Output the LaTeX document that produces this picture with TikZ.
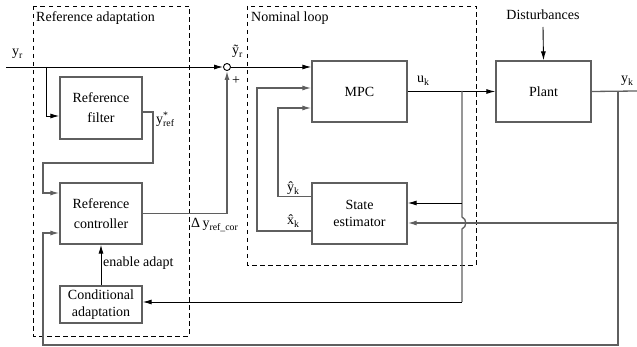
\documentclass[tikz,border=0pt]{standalone}
\usepackage{fontspec}
\setmainfont{Liberation Serif}
\usetikzlibrary{arrows.meta,calc}
\definecolor{ln}{RGB}{95,95,95}
\begin{document}
\begin{tikzpicture}[x=1pt,y=-1pt,
  font=\fontsize{14}{17}\selectfont,
  blk/.style={draw=ln,line width=1.3pt,align=center,inner sep=0pt},
  gl/.style={draw=ln,line width=1.3pt},
  bl/.style={draw=black,line width=0.9pt},
  arr/.style={-{Latex[length=9pt,width=5pt]}},
  dbox/.style={draw=black,line width=0.8pt,dash pattern=on 4.5pt off 3.5pt},
  lbl/.style={anchor=base west,inner sep=0pt}]
\useasboundingbox (0,0) rectangle (637,347);

% dashed groups
\draw[dbox] (33,6) rectangle (189,336);
\draw[dbox] (247,6) rectangle (476,265);
\node[lbl] (ra) at (36,21.5) {Reference adaptation};
\node[lbl] (nl) at (251,21.5) {Nominal loop};

% blocks
\node[blk,minimum width=82pt,minimum height=62pt,font=\fontsize{14}{20}\selectfont] (filt) at (101,108) {Reference\\filter};
\node[blk,minimum width=82pt,minimum height=61pt,font=\fontsize{14}{20}\selectfont] (ctrl) at (101,213.5) {Reference\\controller};
\node[blk,minimum width=82pt,minimum height=37pt] (cond) at (101,304.5) {Conditional\\adaptation};
\node[blk,minimum width=95pt,minimum height=61pt] (mpc) at (359.5,91.5) {MPC};
\node[blk,minimum width=95pt,minimum height=61pt] (est) at (359.5,213.5) {State\\estimator};
\node[blk,minimum width=95pt,minimum height=61pt] (plant) at (543.5,91.5) {Plant};
\node[draw=black,circle,line width=0.9pt,minimum size=7pt,inner sep=0pt,fill=white] (sum) at (227,67) {};

% coordinates
\coordinate (yrin) at (6,67);
\coordinate (br1) at (46,67);
\coordinate (fo1) at (153,163);
\coordinate (fo2) at (43,193);
\coordinate (uk) at (462,91);
\coordinate (ukest) at (462,203);
\coordinate (hopa) at (462,217);
\coordinate (hopb) at (462,229);
\coordinate (ukcond) at (462,302);
\coordinate (yk) at (618,91);
\coordinate (ykest) at (618,223);
\coordinate (yend) at (637,91);
\coordinate (bl) at (43,345);
\coordinate (xh) at (257,88);
\coordinate (yh) at (278,108);
\coordinate (dist) at (543,27);

% reference path
\draw[bl,arr] (yrin) -- (sum.west);
\draw[bl,arr] (sum.east) -- (mpc.west |- sum);
\draw[bl,arr] (br1) |- ($(filt.west)+(0,8)$);
\draw[gl,arr] ($(filt.east)+(0,4)$) -| (fo1) -| (fo2) -- (ctrl.west |- fo2);
\draw[gl,arr] (ctrl.east) -| (sum.south);
\draw[bl,arr] (cond.north) -- (ctrl.south);

% nominal loop
\draw[gl,arr] ($(est.west)+(0,17.5)$) -| (xh) -- (mpc.west |- xh);
\draw[gl,arr] ($(est.west)+(0,-17)$) -| (yh) -- (mpc.west |- yh);
\draw[bl,arr] (mpc.east) -- (plant.west);
\draw[bl,arr] (dist) -- (plant.north);
\draw[gl] (plant.east) -- (yend);

% u_k branch
\draw[gl] (uk) -- (hopa) .. controls (467,219) and (467,227) .. (hopb) -- (ukcond);
\draw[bl,arr] (ukest) -- (est.east |- ukest);
\draw[bl,arr] (ukcond) -- (cond.east |- ukcond);

% y_k feedback
\draw[gl,arr] (ykest) -- (est.east |- ykest);
\draw[gl,arr] (yk) |- (bl) |- ($(ctrl.west)+(0,19.5)$);

% labels
\node[lbl] (lyr) at (12,56) {y\textsubscript{r}};
\node[lbl] (lyt) at (232,55) {\~{y}\textsubscript{r}};
\node (lplus) at (236,81) {+};
\node[lbl] (lyref) at (156,124) {y\rlap{\textsuperscript{*}}\textsubscript{ref}};
\node[lbl] (ldy) at (191,228) {Δ\,y\textsubscript{ref\_cor}};
\node[lbl] (len) at (103,267) {enable adapt};
\node[lbl] (lyh) at (287,192) {\^{y}\textsubscript{k}};
\node[lbl] (lxh) at (287,225) {\^{x}\textsubscript{k}};
\node[lbl] (luk) at (417,83) {u\textsubscript{k}};
\node[lbl] (lyk) at (621,83) {y\textsubscript{k}};
\node[anchor=base] (ldist) at (543,20) {Disturbances};
\end{tikzpicture}
\end{document}
